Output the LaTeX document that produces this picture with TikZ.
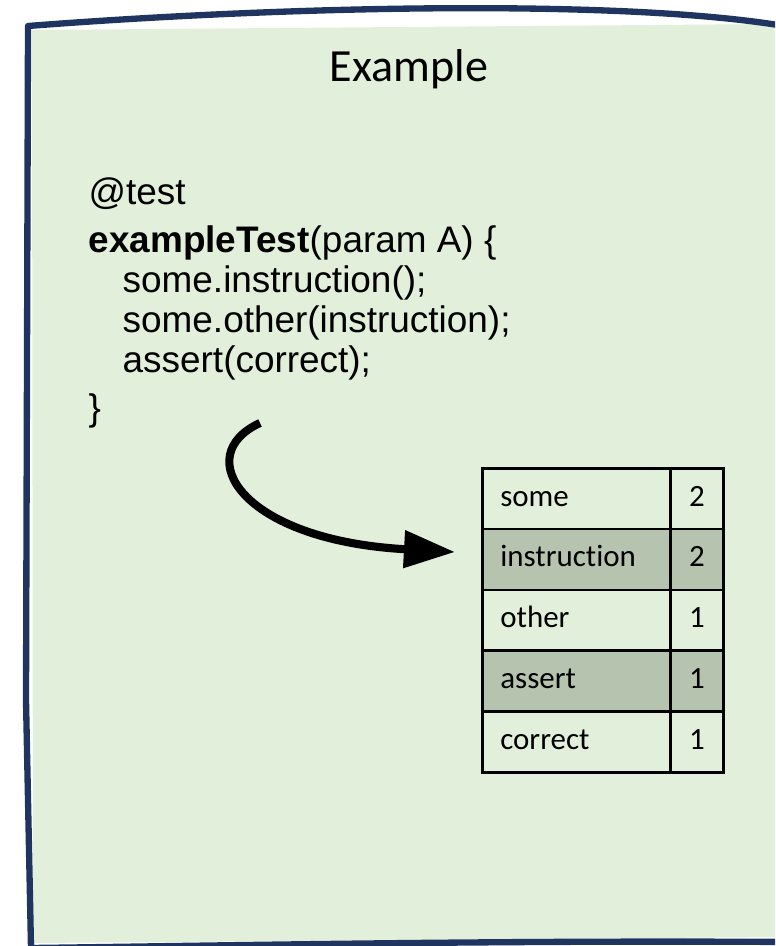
\documentclass[tikz,border=0pt]{standalone}
\usepackage{fontspec}
\setmainfont{Carlito}[Ligatures=NoCommon]
\newfontfamily\codefont{Liberation Sans}
\usetikzlibrary{arrows.meta}
\definecolor{frameblue}{HTML}{1F3560}
\definecolor{panegreen}{HTML}{E2EFDA}
\definecolor{rowgray}{HTML}{B6C3AF}

\begin{document}
\begin{tikzpicture}[
		x=0.01cm, y=-0.01cm,
		frame/.style={draw=frameblue, line width=1.8pt, line join=round},
		word/.style={draw, line width=0.75pt, anchor=north west, minimum width=1.88cm, minimum height=0.608cm,
			text width=1.52cm, inner xsep=0.18cm, inner ysep=0pt, text height=4.2pt, text depth=0pt,
			font=\fontsize{8.8}{10}\selectfont},
		count/.style={draw, line width=0.75pt, anchor=north west, minimum width=0.53cm, minimum height=0.608cm,
			inner sep=0pt, text height=4.2pt, text depth=0pt, font=\fontsize{8.8}{10}\selectfont},
		hl/.style={fill=rowgray},
		codeline/.style={anchor=base west, inner sep=0pt, font=\codefont\fontsize{10.5}{12}\selectfont},
		>={Triangle[length=0.51cm,width=0.36cm]}]
	\clip (0,0) rectangle (775,946);
	%% sheet
	\fill[panegreen] (32,30) -- (778,24) -- (778,937) -- (33,943) -- cycle;
	\draw[frame] (778,25) .. controls (620,0) and (300,5) .. (28,26) -- (26,700) -- (31,948)
		.. controls (200,946) and (500,940) .. (790,942);
	\node (title) at (409,82) [anchor=base, inner sep=0pt, font=\fontsize{13.1}{15}\selectfont] {Example};
	%% code
	\node (annot) at (88,205) [codeline] {@test};
	\node (head) at (88,253) [codeline] {\textbf{exampleTest}(param A) \{};
	\node (lineone) at (122,293) [codeline] {some.instruction();};
	\node (linetwo) at (122,332) [codeline] {some.other(instruction);};
	\node (linethree) at (122,372) [codeline] {assert(correct);};
	\node (close) at (88,420) [codeline] {\}};
	%% table
	\node (wsome) at (481,467) [word] {some};
	\node (nsome) at (669,467) [count] {2};
	\node (winstr) at (481,527.8) [word,hl] {instruction};
	\node (ninstr) at (669,527.8) [count,hl] {2};
	\node (wother) at (481,588.6) [word] {other};
	\node (nother) at (669,588.6) [count] {1};
	\node (wassert) at (481,649.4) [word,hl] {assert};
	\node (nassert) at (669,649.4) [count,hl] {1};
	\node (wcorrect) at (481,710.2) [word] {correct};
	\node (ncorrect) at (669,710.2) [count] {1};
	%% arrow
	\coordinate (arrowstart) at (260,423);
	\coordinate (arrowtip) at ([xshift=-0.26cm,yshift=0.075cm]winstr.west);
	\draw[->,line width=2.3pt] (arrowstart) .. controls (190,455) and (240,540) .. (arrowtip);
\end{tikzpicture}
\end{document}
